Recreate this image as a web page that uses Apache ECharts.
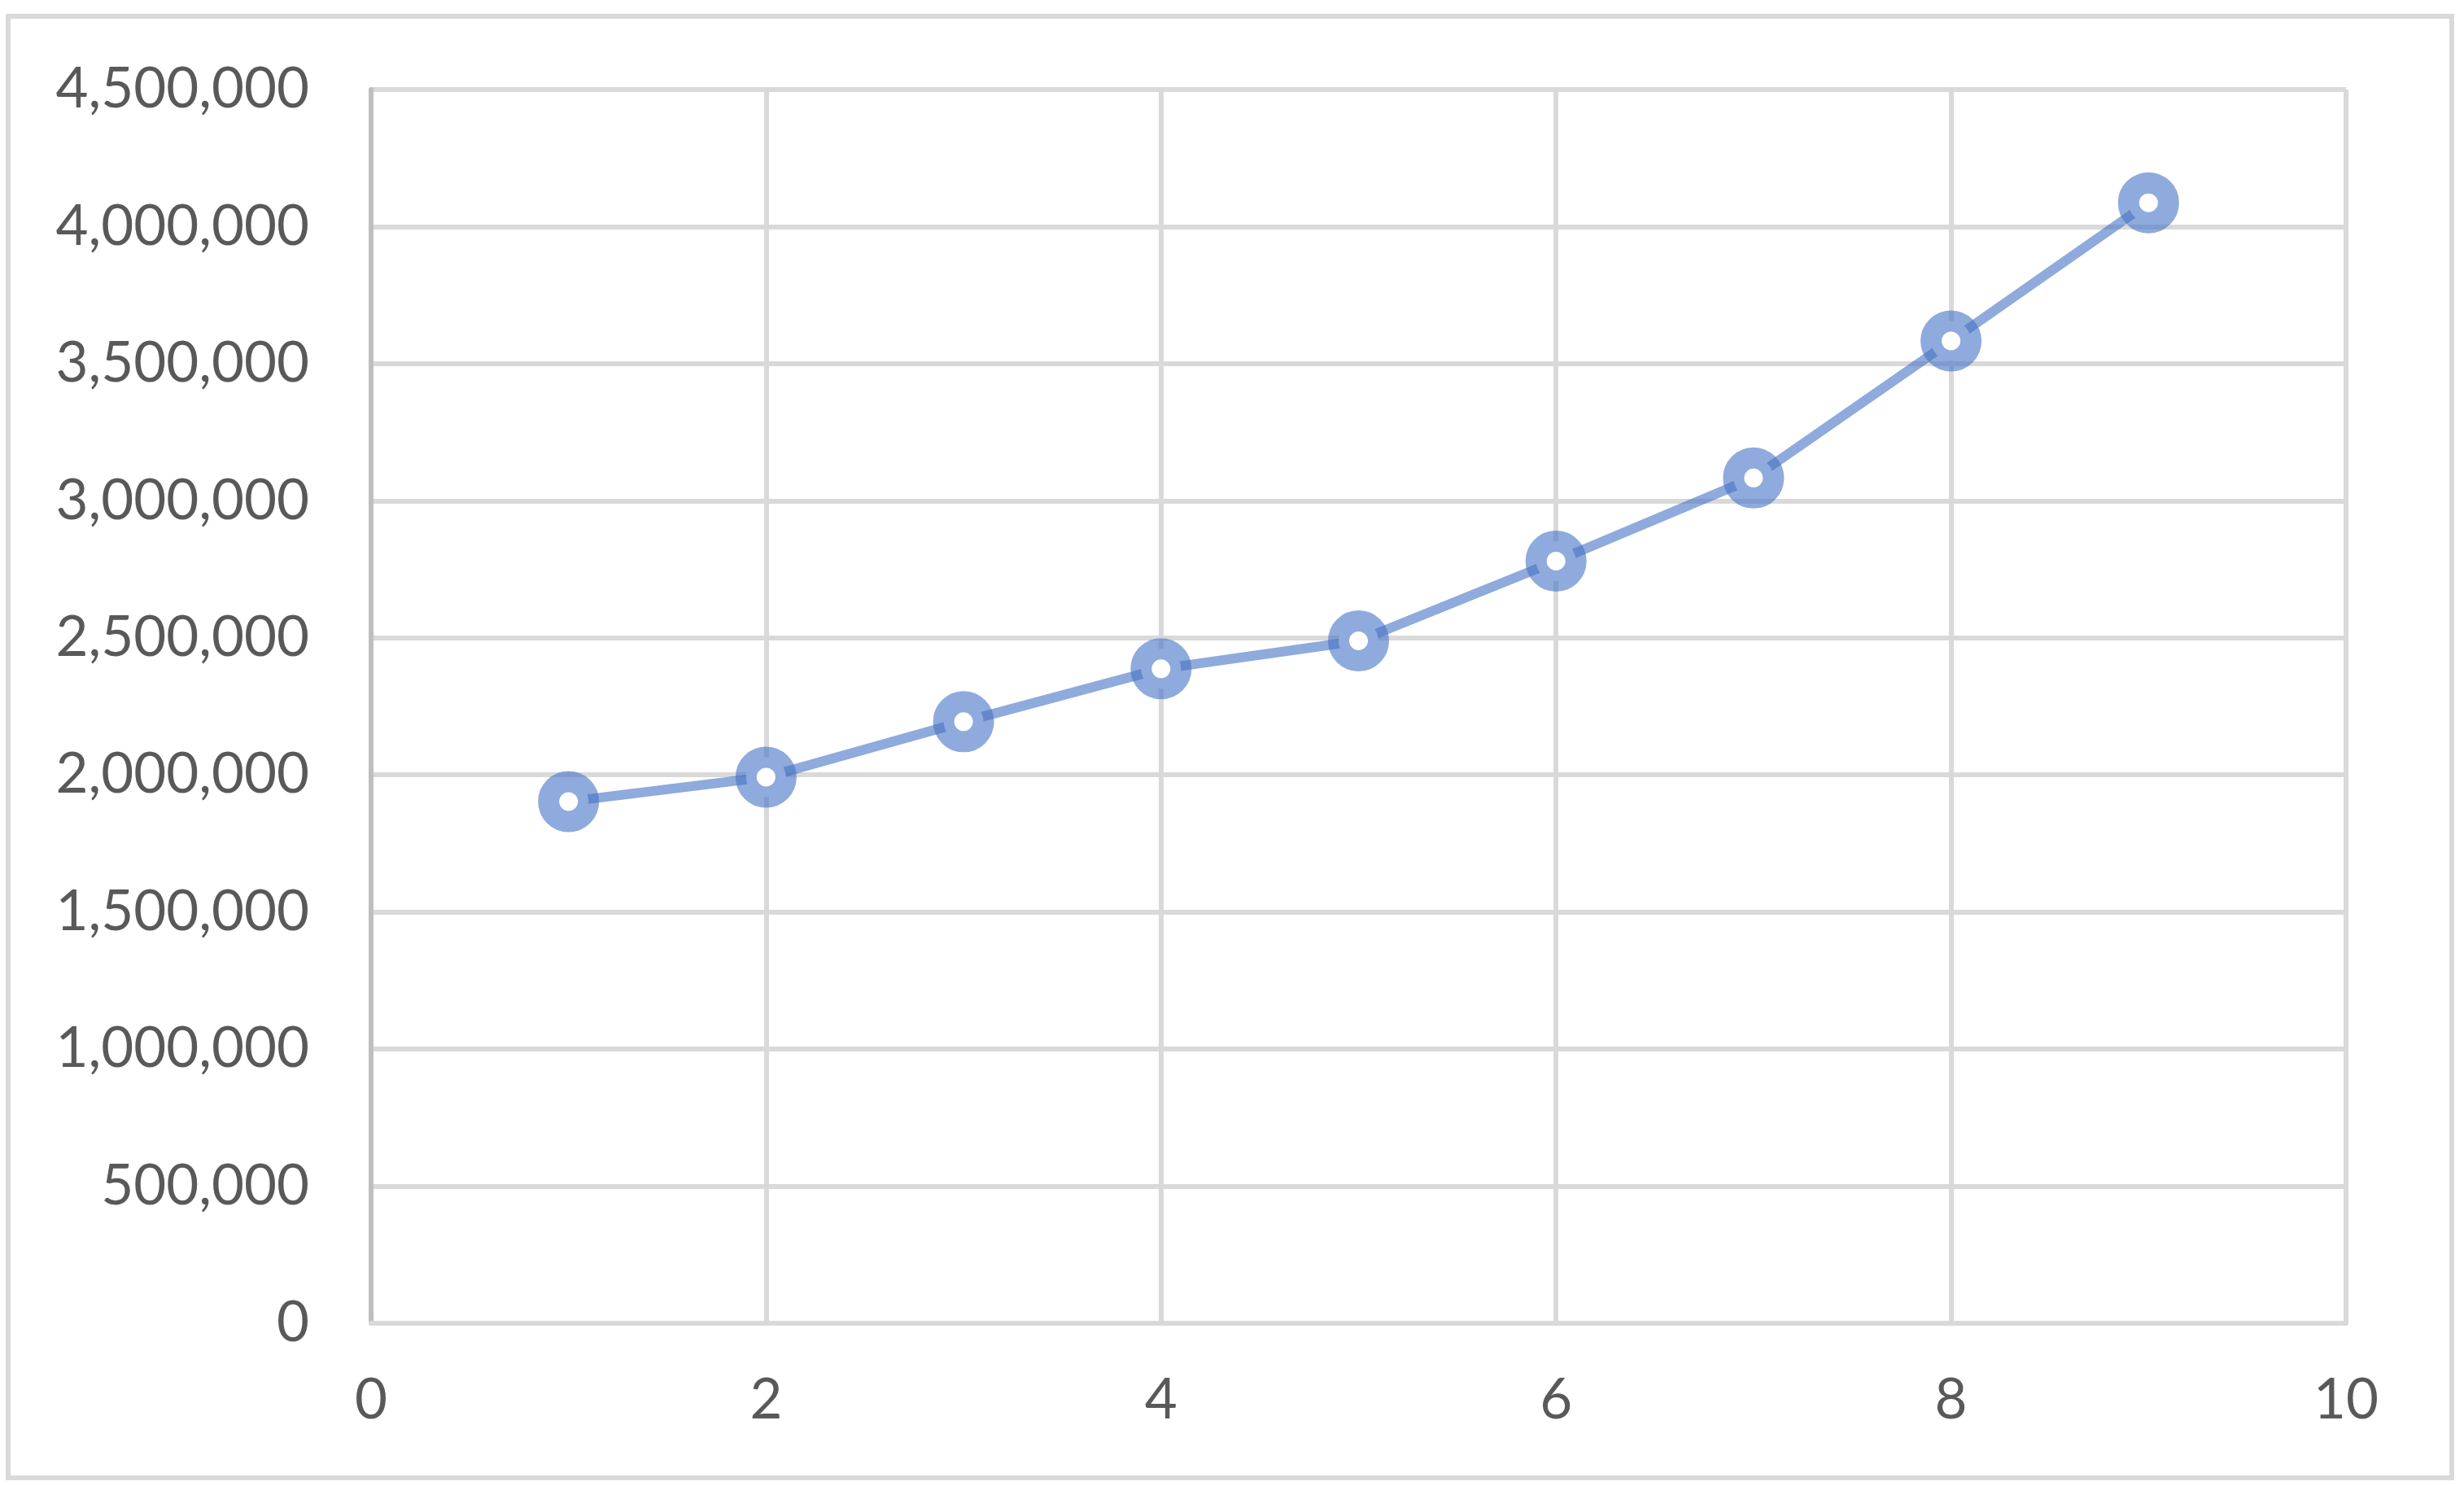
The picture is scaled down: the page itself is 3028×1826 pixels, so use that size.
<!DOCTYPE html>
<html>
<head>
<meta charset="utf-8">
<title>chart</title>
<script src="https://cdn.jsdelivr.net/npm/echarts@6/dist/echarts.min.js"></script>
<style>
  html, body { margin: 0; padding: 0; background: #fff; }
  #main { width: 3028px; height: 1826px; }
</style>
</head>
<body>
<div id="main"></div>
<script>
// data
var xValues = [1, 2, 3, 4, 5, 6, 7, 8, 9]
var yValues = [1903000, 1992000, 2194000, 2387000, 2489000, 2780000, 3083000, 3583000, 4087000]

var lineColor = 'rgba(68, 114, 196, 0.6)'

var myChart = echarts.init(document.getElementById('main'))

var option = {
  backgroundColor: '#fff',
  animation: false,
  textStyle: {
    fontFamily: 'Lato'
  },
  graphic: [
    {
      type: 'rect',
      shape: { x: 10, y: 20, width: 3003, height: 1796 },
      style: { fill: 'none', stroke: '#d9d9d9', lineWidth: 6 },
      silent: true
    }
  ],
  grid: {
    left: 456,
    right: 145,
    top: 110,
    bottom: 200
  },
  xAxis: {
    type: 'value',
    min: 0,
    max: 10,
    interval: 2,
    axisLine: {
      show: true,
      lineStyle: { color: '#d9d9d9', width: 6 }
    },
    axisTick: { show: false },
    axisLabel: {
      fontSize: 69,
      color: '#595959',
      margin: 60
    },
    splitLine: {
      show: true,
      lineStyle: { color: '#d9d9d9', width: 6 }
    }
  },
  yAxis: {
    type: 'value',
    min: 0,
    max: 4500000,
    interval: 500000,
    axisLine: {
      show: true,
      lineStyle: { color: '#bfbfbf', width: 6 }
    },
    axisTick: { show: false },
    axisLabel: {
      fontSize: 69,
      color: '#595959',
      margin: 76,
      formatter: function (v) {
        return v.toLocaleString('en-US')
      }
    },
    splitLine: {
      show: true,
      lineStyle: { color: '#d9d9d9', width: 6 }
    }
  },
  series: [
    {
      type: 'line',
      data: xValues.map(function (x, i) { return [x, yValues[i]] }),
      symbol: 'circle',
      symbolSize: 49,
      lineStyle: {
        width: 12,
        color: lineColor
      },
      itemStyle: {
        color: '#fff',
        borderColor: lineColor,
        borderWidth: 26
      },
      emphasis: { disabled: true }
    }
  ]
}

option && myChart.setOption(option)
</script>
</body>
</html>
